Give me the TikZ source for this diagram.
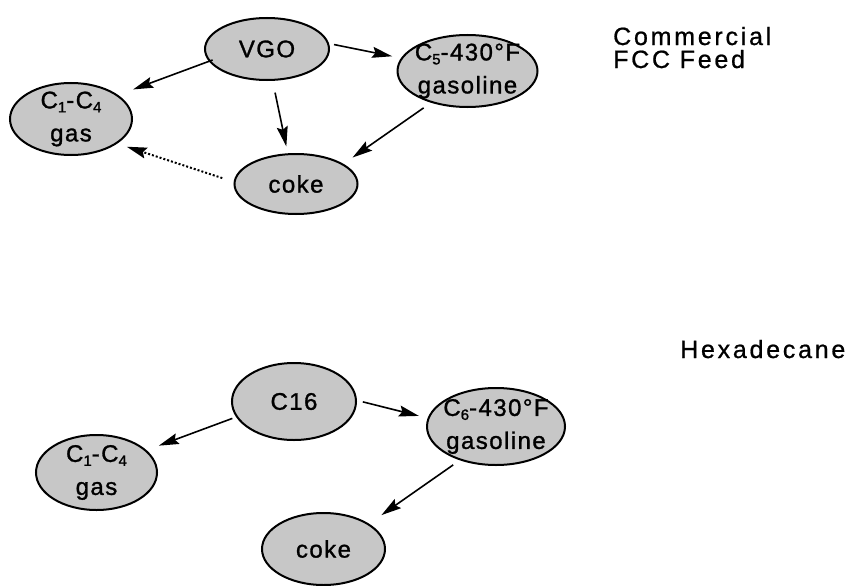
\documentclass[tikz,border=0pt]{standalone}
\usepackage{fontspec}
\setmainfont{Liberation Sans}
\newfontfamily\nodefont[LetterSpace=6,FakeBold=1.2]{Liberation Sans}
\newfontfamily\labelfont[LetterSpace=11,FakeBold=0.8]{Liberation Sans}
\usetikzlibrary{shapes.geometric,arrows.meta}
\newcommand\lowsub[1]{\raisebox{-4pt}{\fontsize{15}{15}\selectfont #1}}
\tikzset{
  blob/.style={ellipse, draw, line width=2pt, fill=black!22, inner sep=-14pt,
    align=center, font=\nodefont\fontsize{24}{33}\selectfont},
  flow/.style={-{Stealth[length=20pt,width=11pt,inset=3pt]}, line width=1.6pt},
  dotflow/.style={flow, line width=2pt, dash pattern=on 2pt off 2pt},
  sidelabel/.style={anchor=base west, inner sep=0pt, align=left,
    font=\labelfont\fontsize{25}{23}\selectfont}
}
\begin{document}
\begin{tikzpicture}[x=1pt,y=-1pt]
\useasboundingbox (0,0) rectangle (854,586);
% top diagram
\node[blob, minimum width=124pt, minimum height=62pt] (vgo) at (267,49) {VGO};
\node[blob, minimum width=122pt, minimum height=72pt] (gas) at (71,119) {C\lowsub{1}-C\lowsub{4}\\gas};
\node[blob, minimum width=140pt, minimum height=72pt] (gsl) at (467.5,71) {C\lowsub{5}-430°F\\gasoline};
\node[blob, minimum width=123pt, minimum height=60pt] (coke) at (296,184) {coke};
\draw[flow, shorten <=-4pt, shorten >=16pt] (vgo.192) -- (gas.27);
\draw[flow, shorten <=5pt, shorten >=9pt] (vgo.5) -- (gsl.169);
\draw[flow, shorten <=12pt, shorten >=7pt] (vgo.-80) -- (coke.105);
\draw[flow, shorten <=9pt, shorten >=11pt] (gsl.221) -- (coke.23);
\draw[dotflow, shorten <=12pt, shorten >=10pt] (coke.178) -- (gas.-28);
% bottom diagram
\node[blob, minimum width=124pt, minimum height=77pt] (c16) at (294,401.5) {C16};
\node[blob, minimum width=121pt, minimum height=75pt] (gasb) at (96.5,472.5) {C\lowsub{1}-C\lowsub{4}\\gas};
\node[blob, minimum width=138pt, minimum height=77pt] (gslb) at (496,426.5) {C\lowsub{6}-430°F\\gasoline};
\node[blob, minimum width=123pt, minimum height=72pt] (cokeb) at (323.5,549) {coke};
\draw[flow, shorten <=4pt, shorten >=13pt] (c16.195) -- (gasb.24);
\draw[flow, shorten <=6pt, shorten >=9pt] (c16.1) -- (gslb.173);
\draw[flow, shorten <=8pt, shorten >=15pt] (gslb.223) -- (cokeb.29);
% labels
\node[sidelabel] (lblA) at (613,68) {Commercial\\FCC Feed};
\node[sidelabel] (lblB) at (680,358) {Hexadecane};
\end{tikzpicture}
\end{document}
